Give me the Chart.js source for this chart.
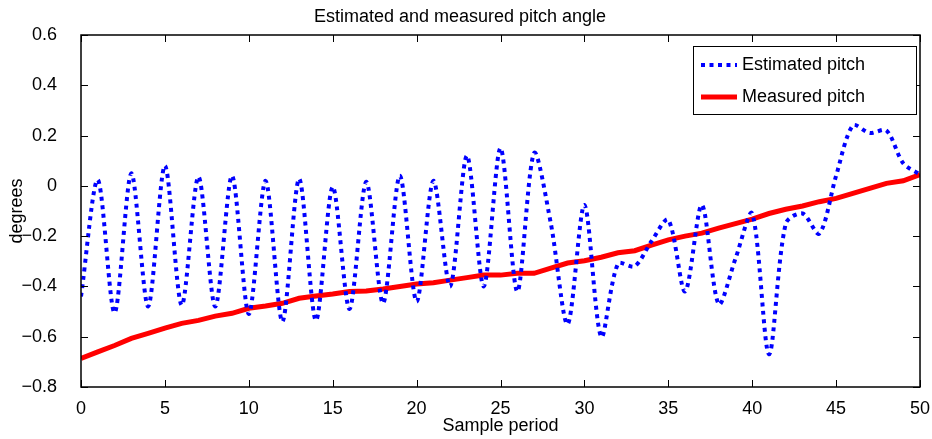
<!DOCTYPE html>
<html>
<head>
<meta charset="utf-8">
<script src="https://cdn.jsdelivr.net/npm/chart.js@4.4.1/dist/chart.umd.min.js"></script>
<style>
  html, body { margin: 0; padding: 0; background: #fff; }
  #wrap { width: 932px; height: 439px; position: relative; }
</style>
</head>
<body>
<div id="wrap"><canvas id="pitch-chart"></canvas></div>
<script>
// ---- data ----
const samplePeriods = [0, 1, 2, 3, 4, 5, 6, 7, 8, 9, 10, 11, 12, 13, 14, 15, 16, 17, 18, 19, 20,
  21, 22, 23, 24, 25, 26, 27, 28, 29, 30, 31, 32, 33, 34, 35, 36, 37, 38, 39, 40,
  41, 42, 43, 44, 45, 46, 47, 48, 49, 50];

const estimatedPitch = [
  -0.44, 0.024, -0.505, 0.05, -0.48, 0.08, -0.475, 0.036, -0.48, 0.04,
  -0.51, 0.02, -0.54, 0.028, -0.535, -0.004, -0.49, 0.016, -0.467, 0.04,
  -0.46, 0.02, -0.40, 0.12, -0.40, 0.15, -0.42, 0.13, -0.15, -0.55,
  -0.076, -0.60, -0.31, -0.32, -0.22, -0.135, -0.42, -0.076, -0.47, -0.29,
  -0.11, -0.67, -0.15, -0.11, -0.19, 0.04, 0.24, 0.21, 0.22, 0.09,
  0.045
];

const measuredPitch = [
  -0.686, -0.66, -0.635, -0.607, -0.587, -0.566, -0.547, -0.535, -0.518, -0.507,
  -0.487, -0.478, -0.467, -0.447, -0.438, -0.43, -0.42, -0.418, -0.41, -0.40,
  -0.39, -0.385, -0.375, -0.365, -0.355, -0.355, -0.348, -0.348, -0.327, -0.307,
  -0.298, -0.284, -0.266, -0.258, -0.236, -0.215, -0.2, -0.188, -0.168, -0.15,
  -0.132, -0.11, -0.093, -0.08, -0.063, -0.05, -0.03, -0.01, 0.01, 0.02,
  0.045
];

const xTicks = [0, 5, 10, 15, 20, 25, 30, 35, 40, 45, 50];
const yTicks = [-0.8, -0.6, -0.4, -0.2, 0, 0.2, 0.4, 0.6];

const FONT = 'Liberation Sans, Arial, Helvetica, sans-serif';
const FS = 18;
const BLUE = '#0000ff';
const RED = '#ff0000';
const DOTS = [4, 4.5];

// frame + inward ticks, matlab style
const framePlugin = {
  id: 'frame',
  afterDatasetsDraw(chart) {
    const { ctx, chartArea: a, scales } = chart;
    ctx.save();
    ctx.strokeStyle = '#000';
    ctx.lineWidth = 1.5;
    ctx.strokeRect(a.left, a.top, a.right - a.left, a.bottom - a.top);
    ctx.lineWidth = 1;
    const tl = 7;
    ctx.beginPath();
    xTicks.forEach(v => {
      const px = Math.round(scales.x.getPixelForValue(v)) + 0.5;
      ctx.moveTo(px, a.bottom); ctx.lineTo(px, a.bottom - tl);
      ctx.moveTo(px, a.top); ctx.lineTo(px, a.top + tl);
    });
    yTicks.forEach(v => {
      const py = Math.round(scales.y.getPixelForValue(v)) + 0.5;
      ctx.moveTo(a.left, py); ctx.lineTo(a.left + tl, py);
      ctx.moveTo(a.right, py); ctx.lineTo(a.right - tl, py);
    });
    ctx.stroke();
    ctx.restore();
  }
};

// boxed legend in the top right corner
const legendBoxPlugin = {
  id: 'legendBox',
  afterDraw(chart) {
    const { ctx, chartArea: a } = chart;
    const right = a.right - 4, top = a.top + 11;
    const w = 223, h = 68;
    const left = right - w;
    ctx.save();
    ctx.fillStyle = '#fff';
    ctx.fillRect(left, top, w, h);
    ctx.strokeStyle = '#000';
    ctx.lineWidth = 1;
    ctx.strokeRect(left + 0.5, top + 0.5, w, h);

    const items = [
      { label: 'Estimated pitch', color: BLUE, width: 4, dash: DOTS },
      { label: 'Measured pitch', color: RED, width: 5, dash: [] }
    ];
    items.forEach((it, i) => {
      const y = top + 19 + i * 32;
      ctx.beginPath();
      ctx.strokeStyle = it.color;
      ctx.lineWidth = it.width;
      ctx.setLineDash(it.dash);
      ctx.moveTo(left + 8, y);
      ctx.lineTo(left + 44, y);
      ctx.stroke();
      ctx.setLineDash([]);
      ctx.fillStyle = '#000';
      ctx.font = FS + 'px ' + FONT;
      ctx.textBaseline = 'middle';
      ctx.textAlign = 'left';
      ctx.fillText(it.label, left + 49, y);
    });
    ctx.restore();
  }
};

function fmtY(v) {
  if (Math.abs(v) < 1e-9) return '0';
  return (v < 0 ? '\u2212' : '') + Math.abs(v).toFixed(1);
}

new Chart(document.getElementById('pitch-chart'), {
  type: 'line',
  data: {
    labels: samplePeriods,
    datasets: [
      {
        label: 'Estimated pitch',
        data: samplePeriods.map((x, i) => ({ x: x, y: estimatedPitch[i] })),
        borderColor: BLUE,
        borderWidth: 4,
        borderDash: DOTS,
        borderCapStyle: 'butt',
        pointRadius: 0,
        tension: 0.3,
        fill: false
      },
      {
        label: 'Measured pitch',
        data: samplePeriods.map((x, i) => ({ x: x, y: measuredPitch[i] })),
        borderColor: RED,
        borderWidth: 5,
        pointRadius: 0,
        tension: 0,
        fill: false
      }
    ]
  },
  options: {
    responsive: true,
    maintainAspectRatio: false,
    animation: false,
    events: [],
    layout: { padding: { left: 0, right: 12, top: 0, bottom: 0 } },
    plugins: {
      legend: { display: false },
      tooltip: { enabled: false },
      title: {
        display: true,
        text: 'Estimated and measured pitch angle',
        color: '#000',
        font: { family: FONT, size: FS, weight: 'normal' },
        padding: { top: 6.2, bottom: 7.2 }
      }
    },
    scales: {
      x: {
        type: 'linear',
        min: 0,
        max: 50,
        afterFit(scale) {
          scale.height = 52;
          scale.paddingLeft = 0;
          scale.paddingRight = 0;
        },
        afterBuildTicks(scale) { scale.ticks = xTicks.map(v => ({ value: v })); },
        grid: { display: false },
        border: { display: false },
        ticks: {
          color: '#000',
          font: { family: FONT, size: FS },
          padding: 3,
          maxRotation: 0,
          autoSkip: false
        },
        title: {
          display: true,
          text: 'Sample period',
          color: '#000',
          font: { family: FONT, size: FS },
          padding: { top: 0, bottom: 2.5 }
        }
      },
      y: {
        min: -0.8,
        max: 0.6,
        afterFit(scale) { scale.width = 81; },
        afterBuildTicks(scale) { scale.ticks = yTicks.map(v => ({ value: v })); },
        grid: { display: false },
        border: { display: false },
        ticks: {
          color: '#000',
          font: { family: FONT, size: FS },
          padding: 16,
          callback: v => fmtY(v)
        },
        title: {
          display: true,
          text: 'degrees',
          color: '#000',
          font: { family: FONT, size: FS },
          padding: { top: 6, bottom: 0 }
        }
      }
    }
  },
  plugins: [framePlugin, legendBoxPlugin]
});
</script>
</body>
</html>
